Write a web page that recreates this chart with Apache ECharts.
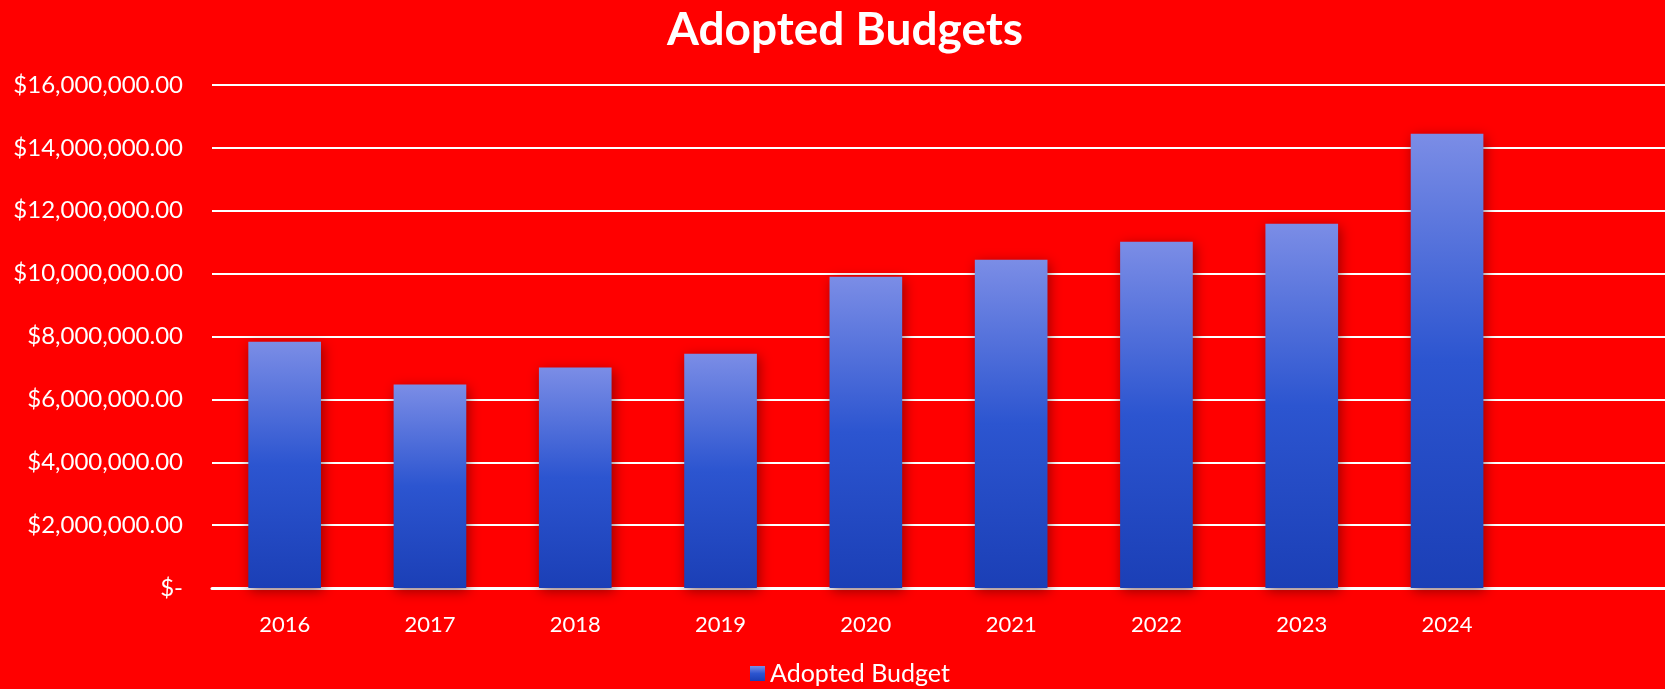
<!DOCTYPE html>
<html>
<head>
<meta charset="utf-8">
<script src="https://cdn.jsdelivr.net/npm/echarts@6/dist/echarts.min.js"></script>
<style>
  html, body { margin: 0; padding: 0; background: #ff0000; }
  #chart { width: 1665px; height: 689px; }
</style>
</head>
<body>
<div id="chart"></div>
<script>
const categories = ['2016', '2017', '2018', '2019', '2020', '2021', '2022', '2023', '2024', ''];
const adoptedBudget = [7830000, 6470000, 7010000, 7450000, 9900000, 10440000, 11010000, 11590000, 14450000, null];
const seriesName = 'Adopted Budget';
const titleText = 'Adopted Budgets';

const FONT = 'Lato, "Open Sans", sans-serif';

function fmtMoney(v) {
  if (v === 0) return '$-';
  return '$' + v.toLocaleString('en-US', { minimumFractionDigits: 2, maximumFractionDigits: 2 });
}

const barGradient = new echarts.graphic.LinearGradient(0, 0, 0, 1, [
  { offset: 0, color: '#7b8de6' },
  { offset: 0.5, color: '#2c55d0' },
  { offset: 1, color: '#1b3fb6' }
]);

const chart = echarts.init(document.getElementById('chart'), null, { renderer: 'canvas' });
chart.setOption({
  backgroundColor: '#ff0000',
  animation: false,
  title: {
    text: titleText,
    left: 662,
    top: 2,
    textStyle: { color: '#ffffff', fontFamily: FONT, fontWeight: 'bold', fontSize: 46 }
  },
  legend: {
    bottom: -2,
    left: 745,
    itemWidth: 15,
    itemHeight: 15,
    itemGap: 6,
    icon: 'rect',
    textStyle: { color: '#ffffff', fontFamily: FONT, fontSize: 25 },
    data: [seriesName]
  },
  grid: { left: 212, right: 0, top: 85, bottom: 101, containLabel: false },
  xAxis: {
    type: 'category',
    data: categories,
    axisLine: { show: true, lineStyle: { color: '#ffffff', width: 3 } },
    axisTick: { show: false },
    axisLabel: { color: '#ffffff', fontFamily: FONT, fontSize: 22, margin: 26 }
  },
  yAxis: {
    type: 'value',
    min: 0,
    max: 16000000,
    interval: 2000000,
    axisLine: { show: false },
    axisTick: { show: false },
    splitLine: { show: true, lineStyle: { color: '#ffffff', width: 2 } },
    axisLabel: {
      color: '#ffffff', fontFamily: FONT, fontSize: 24, margin: 29,
      formatter: fmtMoney
    }
  },
  series: [{
    name: seriesName,
    type: 'bar',
    data: adoptedBudget,
    barWidth: '50%',
    itemStyle: {
      color: barGradient,
      shadowColor: 'rgba(60,0,0,0.55)',
      shadowBlur: 12,
      shadowOffsetX: 2,
      shadowOffsetY: 3
    }
  }]
});
</script>
</body>
</html>
